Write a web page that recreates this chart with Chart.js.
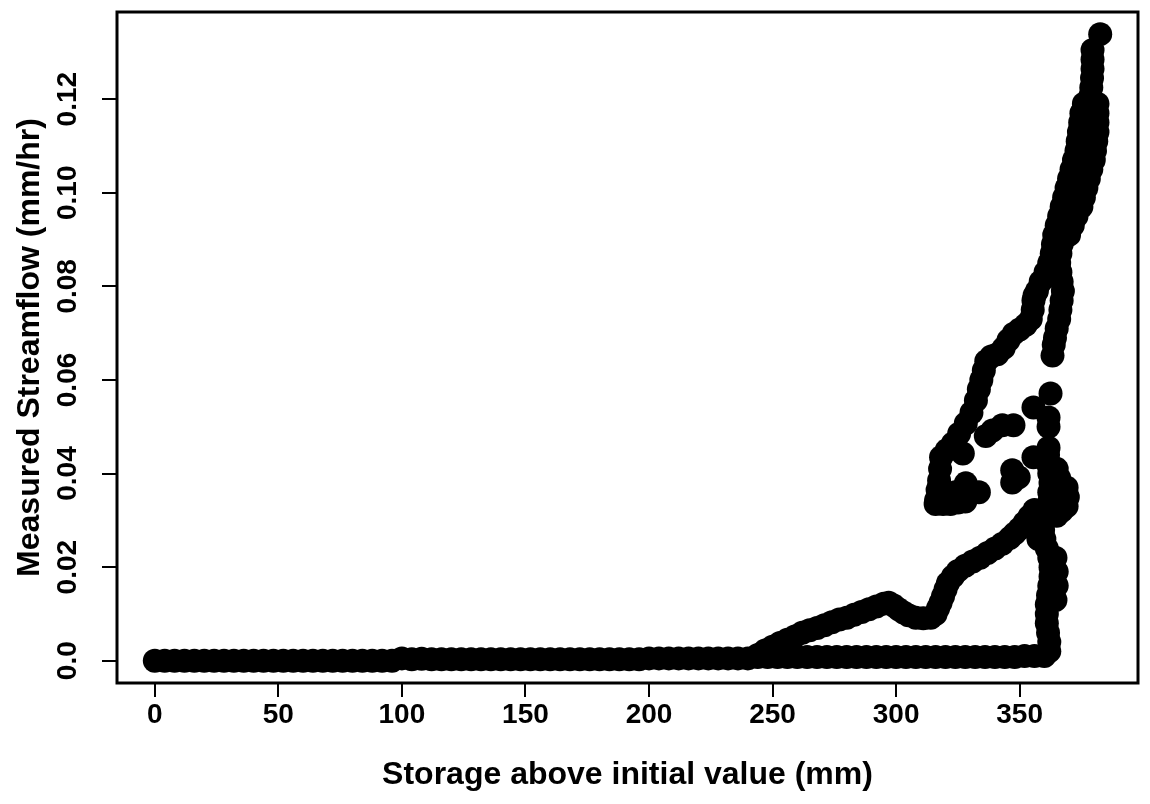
<!DOCTYPE html>
<html><head><meta charset="utf-8">
<script src="https://cdn.jsdelivr.net/npm/chart.js@4"></script>
<style>html,body{margin:0;padding:0;background:#fff}canvas{display:block}</style>
</head><body>
<canvas id="c" width="1150" height="804"></canvas>
<script>
// ---- tick labels ----
const xTickValues = [0, 50, 100, 150, 200, 250, 300, 350];
const xTickLabels = ['0', '50', '100', '150', '200', '250', '300', '350'];
const yTickValues = [0, 0.02, 0.04, 0.06, 0.08, 0.10, 0.12];
const yTickLabels = ['0.0', '0.02', '0.04', '0.06', '0.08', '0.10', '0.12'];

// ---- data (storage mm, streamflow mm/hr) ----
// near-zero baseline
const baseX = [0,4,8,12,16,20,24,28,32,36,40,44,48,52,56,60,64,68,72,76,80,84,88,92,96,
  100,104,108,
  112,116,120,124,128,132,136,140,144,148,152,156,160,164,168,172,176,180,184,188,192,196,
  200,204,208,212,216,220,224,228,232,236,240,
  244,248,252,256,260,264,268,272,276,280,284,288,292,296,300,304,308,312,316,320,324,328,332,336,340,344,348,
  352,356,360];
const baseY = [0,0,0,0,0,0,0,0,0,0,0,0,0,0,0,0,0,0,0,0,0,0,0,0,0,
  0.0005,0.0003,0.0004,
  0.0003,0.0003,0.0003,0.0003,0.0003,0.0003,0.0003,0.0003,0.0003,0.0003,0.0003,0.0003,0.0003,0.0003,0.0003,0.0003,0.0003,0.0003,0.0003,0.0003,0.0003,0.0003,
  0.0005,0.0005,0.0005,0.0005,0.0005,0.0005,0.0005,0.0005,0.0005,0.0005,0.0005,
  0.0008,0.0008,0.0008,0.0008,0.0008,0.0008,0.0008,0.0008,0.0008,0.0008,0.0008,0.0008,0.0008,0.0008,0.0008,0.0008,0.0008,0.0008,0.0008,0.0008,0.0008,0.0008,0.0008,0.0008,0.0008,0.0008,0.0008,
  0.0010,0.0010,0.0010];
// rising branch of lower loop
const midX = [244,247,250,253,256,259,262,265,268,271,274,277,280,283,286,289,292,295,297,299,
  301,303,305,308,311,314,316,317,318,319,320,321,323,325,328,331,334,337,340,343,346,348,350,352,354,356];
const midY = [0.0012,0.0022,0.0030,0.0038,0.0045,0.0052,0.0060,0.0065,0.0070,0.0076,0.0082,0.0088,0.0092,0.0098,0.0104,0.0110,0.0116,0.0122,0.0124,0.0118,
  0.0110,0.0103,0.0097,0.0092,0.0091,0.0092,0.0100,0.0112,0.0124,0.0138,0.0152,0.0166,0.0180,0.0192,0.0203,0.0212,0.0220,0.0230,0.0240,0.0250,0.0262,0.0272,0.0282,0.0295,0.0308,0.0322];
// near-vertical branch at ~362 mm
const riseX = [362,362,361.5,361,361,361,361.5,362,362.5,362.5,362,361,360,359.5,360,361,362,362,362.5,362,361.5,361.5,361.7,
  364.5,365,365,364.5,357.6,357.6,365,367,369,369.5,369,366,365];
const riseY = [0.002,0.004,0.006,0.008,0.010,0.012,0.014,0.016,0.018,0.020,0.022,0.024,0.026,0.028,0.030,0.032,0.034,0.036,0.038,0.040,0.042,0.044,0.0455,
  0.013,0.016,0.019,0.022,0.026,0.029,0.031,0.032,0.033,0.035,0.037,0.039,0.041];
// scattered points
const dotX = [363.3,362.5,355.6,361.7,361.7,355.6,347,349.6,347,339,343,347.5,336.3];
const dotY = [0.0652,0.0571,0.0541,0.052,0.050,0.0435,0.0407,0.0392,0.0381,0.0492,0.0503,0.0503,0.048];
// falling branch of upper loop
const leftX = [358.5,357,356,355.6,355.3,354.5,352.5,350,347.6,345.5,343.5,341,338.5,336.5,335.5,334.5,333.5,332.3,330.5,328.2,
  325.5,323,320.5,318.2,317.8,317.4,316.8,316.2,
  316,319,322,325,328,320,324,328.2,333.5,327];
const leftY = [0.081,0.079,0.078,0.077,0.075,0.073,0.0718,0.0708,0.0699,0.0685,0.0668,0.0655,0.0650,0.0640,0.0620,0.0600,0.0580,0.0556,0.0530,0.0507,
  0.0485,0.0464,0.0450,0.0435,0.0410,0.0385,0.0365,0.0343,
  0.0335,0.0335,0.0335,0.0338,0.0340,0.0355,0.0360,0.0379,0.0360,0.0443];
// upper band towards the peak
const upX = [382.6,379.5,379.5,379.5,379.3,379,378.5,
  376,379,381.5, 375,378.5,381.5, 374.5,378,381.5, 374,378,381.5, 373.5,377.5,381, 373,377,380.5,
  372,376,380, 371,375,379, 370,374,378, 369,373,377, 368,372,376, 367,371,375,
  366,369.5,373, 365,368.5,371.5, 364,367.5,370,
  363.5,367, 363,366.5, 362,366, 360.5,366.5,
  367,367.5,367,366.5,366,365,364.3,363.8];
const upY = [0.1339,0.1305,0.1285,0.1265,0.1245,0.1225,0.1205,
  0.119,0.119,0.119, 0.117,0.117,0.117, 0.115,0.115,0.115, 0.113,0.113,0.113, 0.111,0.111,0.111, 0.109,0.109,0.109,
  0.107,0.107,0.107, 0.105,0.105,0.105, 0.103,0.103,0.103, 0.101,0.101,0.101, 0.099,0.099,0.099, 0.097,0.097,0.097,
  0.095,0.095,0.095, 0.093,0.093,0.093, 0.091,0.091,0.091,
  0.089,0.089, 0.087,0.087, 0.085,0.085, 0.083,0.083,
  0.081,0.079,0.077,0.075,0.073,0.071,0.069,0.0675];

const segments = [[baseX, baseY], [midX, midY], [riseX, riseY], [dotX, dotY], [leftX, leftY], [upX, upY]];
const points = [];
segments.forEach(([xs, ys]) => xs.forEach((x, i) => points.push({x: x, y: ys[i]})));

const FONT = "'Liberation Sans', Arial, Helvetica, sans-serif";
const TICK_FONT = {family: FONT, size: 28, weight: 'bold', lineHeight: 1};
const TITLE_FONT = {family: FONT, size: 32, weight: 'bold', lineHeight: 1};

const boxAndYLabels = {
  id: 'boxAndYLabels',
  afterDraw(chart) {
    const {ctx, chartArea: a, scales: {y}} = chart;
    ctx.save();
    ctx.strokeStyle = '#000';
    ctx.lineWidth = 3;
    ctx.strokeRect(a.left, a.top, a.right - a.left, a.bottom - a.top);
    ctx.fillStyle = '#000';
    ctx.font = 'bold 28px ' + FONT;
    ctx.textAlign = 'center';
    ctx.textBaseline = 'middle';
    yTickValues.forEach((v, i) => {
      const py = y.getPixelForValue(v);
      ctx.save();
      ctx.translate(y.right - 49, py);
      ctx.rotate(-Math.PI / 2);
      ctx.fillText(yTickLabels[i], 0, 0);
      ctx.restore();
    });
    ctx.restore();
  }
};

new Chart(document.getElementById('c'), {
  type: 'scatter',
  data: {datasets: [{
    data: points,
    pointRadius: 12,
    pointBackgroundColor: '#000',
    pointBorderWidth: 0,
    pointStyle: 'circle'
  }]},
  options: {
    responsive: false,
    devicePixelRatio: 1,
    animation: false,
    events: [],
    layout: {padding: {left: 0, right: 7, top: 11, bottom: 0}},
    plugins: {legend: {display: false}, tooltip: {enabled: false}},
    scales: {
      x: {
        type: 'linear', min: -15.3, max: 397.9,
        afterBuildTicks: s => { s.ticks = xTickValues.map(v => ({value: v})); },
        afterFit: s => { s.height = 121; },
        ticks: {color: '#000', font: TICK_FONT, padding: 4, autoSkip: false, maxRotation: 0, minRotation: 0,
          callback: (v, i) => xTickLabels[i]},
        grid: {drawOnChartArea: false, drawTicks: true, tickLength: 14, color: '#000', lineWidth: 2},
        border: {display: false},
        title: {display: true, text: 'Storage above initial value (mm)', color: '#000', font: TITLE_FONT,
          padding: {top: 0, bottom: 13}}
      },
      y: {
        type: 'linear', min: -0.00476, max: 0.13863,
        afterBuildTicks: s => { s.ticks = yTickValues.map(v => ({value: v})); },
        afterFit: s => { s.width = 117; },
        ticks: {display: false},
        grid: {drawOnChartArea: false, drawTicks: true, tickLength: 15, color: '#000', lineWidth: 2},
        border: {display: false},
        title: {display: true, text: 'Measured Streamflow (mm/hr)', color: '#000', font: TITLE_FONT,
          padding: {top: 14, bottom: 0}}
      }
    }
  },
  plugins: [boxAndYLabels]
});
</script>
</body></html>
